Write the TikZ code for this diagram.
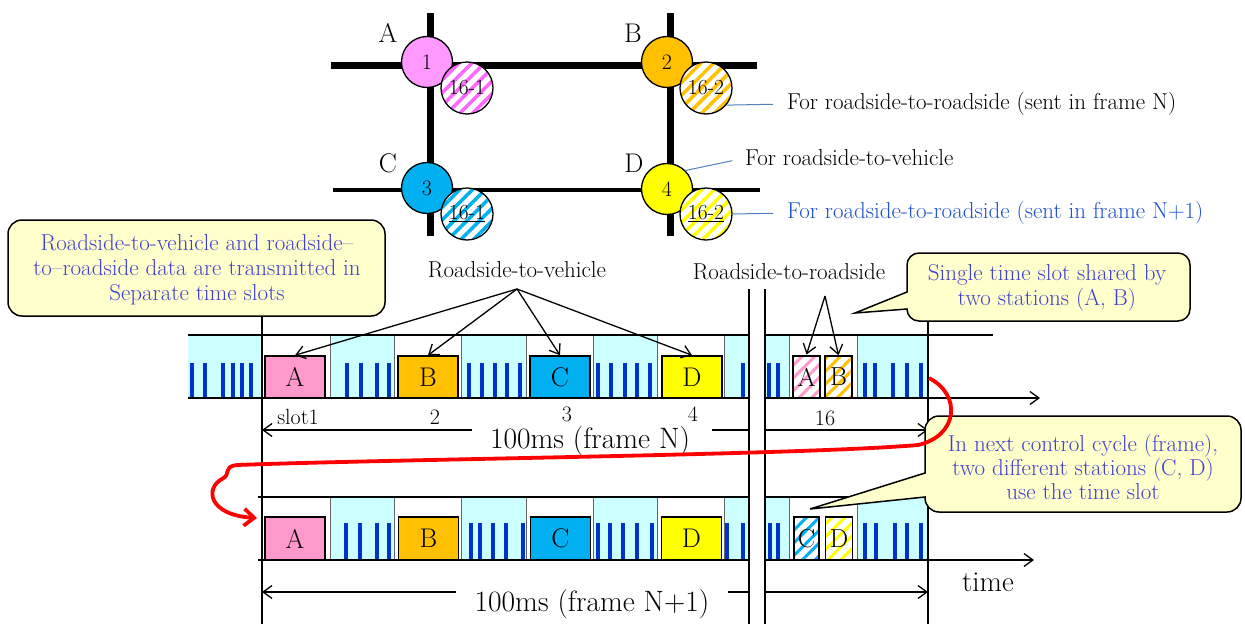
\documentclass[tikz,border=0pt]{standalone}
\usepackage{fontspec}
\usetikzlibrary{arrows.meta,patterns.meta}
\definecolor{cyanbg}{HTML}{CCFFFF}
\definecolor{barblue}{HTML}{0033CC}
\definecolor{pinkA}{HTML}{FF99CC}
\definecolor{violetA}{HTML}{FF99FF}
\definecolor{hatchA}{HTML}{FF66FF}
\definecolor{hatchpink}{HTML}{FF99CC}
\definecolor{orangeB}{HTML}{FFC000}
\definecolor{cyanC}{HTML}{00B0F0}
\definecolor{yellowD}{HTML}{FFFF00}
\definecolor{calloutbg}{HTML}{FFFFCC}
\definecolor{callouttext}{HTML}{4040D0}
\definecolor{leader}{HTML}{4F81BD}
\definecolor{bluetext}{HTML}{2050D0}
\definecolor{sepgray}{HTML}{666666}
\definecolor{redarrow}{HTML}{FF0000}
\tikzset{
  txt/.style={font=\fontsize{23}{26}\selectfont, inner sep=0pt},
  slottxt/.style={font=\fontsize{22}{26}\selectfont, inner sep=0pt},
  biglabel/.style={font=\fontsize{27}{30}\selectfont, inner sep=0pt},
  dimtext/.style={font=\fontsize{29.5}{32}\selectfont, inner sep=0pt},
  station/.style={circle, draw=black, line width=1.3, minimum size=51, inner sep=0pt, font=\fontsize{22}{25}\selectfont},
  hatchc/.style={circle, draw=black, line width=1.3, minimum size=52, inner sep=0pt,
    preaction={fill=white}, pattern={Lines[angle=45,distance=9pt,line width=3.5pt]},
    font=\fontsize{21.5}{25}\selectfont},
  slotbox/.style={draw=black, line width=1.5, minimum width=60, minimum height=42, inner sep=0pt,
    font=\fontsize{27}{30}\selectfont},
  smallbox/.style={draw=black, line width=1.5, minimum width=27, minimum height=42, inner sep=0pt,
    preaction={fill=white}, pattern={Lines[angle=45,distance=9pt,line width=3pt]},
    font=\fontsize{26}{30}\selectfont},
  bar/.style={barblue, line width=3.3},
  sep/.style={sepgray, line width=1},
  thin/.style={black, line width=1.3},
  arr/.style={black, line width=1.3, -{Straight Barb[length=9pt,width=13pt]}},
  leaderline/.style={leader, line width=1},
  callout/.style={draw=black, fill=calloutbg, line width=1.5},
  callouttxt/.style={font=\fontsize{23}{25}\selectfont, text=callouttext, align=center, inner sep=0pt},
}
\begin{document}
\begin{tikzpicture}[x=1pt,y=-1pt]
\useasboundingbox (0,0) rectangle (1245,624);
% ---------- top intersection ----------
\draw[line width=7] (331,65) -- (757,65);
\draw[line width=4.5] (333,190) -- (760,190);
\draw[line width=7] (430,13) -- (430,236);
\draw[line width=7] (670,13) -- (670,236);
\node[station, fill=violetA] (s1) at (427,62) {1};
\node[station, fill=orangeB] (s2) at (667,62) {2};
\node[station, fill=cyanC] (s3) at (427,188) {3};
\node[station, fill=yellowD] (s4) at (667,189) {4};
\node[hatchc, pattern color=hatchA] (h1) at (467,88) {16-1};
\node[hatchc, pattern color=orangeB] (h2) at (706,88) {16-2};
\node[hatchc, pattern color=cyanC] (h3) at (467,214) {\underline{16-1}};
\node[hatchc, pattern color=yellowD] (h4) at (706,214) {\underline{16-2}};
\node[biglabel] (lA) at (388,33) {A};
\node[biglabel] (lB) at (633,33) {B};
\node[biglabel] (lC) at (388,163) {C};
\node[biglabel] (lD) at (634,163) {D};
\node[txt, anchor=west] (t1) at (787,104) {For roadside-to-roadside (sent in frame N)};
\node[txt, anchor=west] (t2) at (745,158) {For roadside-to-vehicle};
\node[txt, anchor=west, text=bluetext] (t3) at (787,213) {For roadside-to-roadside (sent in frame N+1)};
\draw[leaderline, shorten >=14pt] (h2.-40) -- (t1.west);
\draw[leaderline, shorten >=13pt] (s4.45) -- (t2.west);
\draw[leaderline, shorten >=14pt] (h4.east) -- (t3.west);
% ---------- row 1 ----------
\foreach \a/\b in {188/262,330/394,461/526,593/657,724/749,765/789,857/928}
  \fill[cyanbg] (\a,335) rectangle (\b,398);
\foreach \x in {192,205,223,233,242,251,347,361,377,389,469,482,495,507,520,598,611,625,637,650,743,769,778,865,875,893,907,921}
  \draw[bar] (\x,363) -- (\x,398);
\foreach \x in {330,394,461,526,593,657,724,789,857}
  \draw[sep] (\x,335) -- (\x,398);
\node[slotbox, fill=pinkA] (A1) at (295,377) {A};
\node[slotbox, fill=orangeB] (B1) at (428,377) {B};
\node[slotbox, fill=cyanC] (C1) at (560,377) {C};
\node[slotbox, fill=yellowD] (D1) at (692,377) {D};
\node[smallbox, pattern color=hatchpink] (sa1) at (806.5,377) {A};
\node[smallbox, pattern color=orangeB] (sb1) at (838.5,377) {B};
\draw[thin] (188,335) -- (749,335);
\draw[thin] (765,335) -- (993,335);
\draw[thin] (188,398) -- (749,398);
\draw[arr] (765,398) -- (1040,398);
% ---------- row 2 ----------
\foreach \a/\b in {330/394,461/526,593/657,724/749,765/789,857/928}
  \fill[cyanbg] (\a,497) rectangle (\b,560);
\foreach \x in {346,360,377,389,471,480,493,506,523,598,610,623,637,652,727,743,770,778,865,876,895,907,921}
  \draw[bar] (\x,523) -- (\x,560);
\foreach \x in {330,394,461,526,593,657,724,789,857}
  \draw[sep] (\x,497) -- (\x,560);
\node[slotbox, fill=pinkA, minimum height=43] (A2) at (295,538.5) {A};
\node[slotbox, fill=orangeB, minimum height=43] (B2) at (428.5,538.5) {B};
\node[slotbox, fill=cyanC, minimum height=43] (C2) at (560.5,538.5) {C};
\node[slotbox, fill=yellowD, minimum height=43] (D2) at (691.5,538.5) {D};
\node[smallbox, pattern color=cyanC, minimum width=25, minimum height=43] (sc2) at (806.5,538.5) {C};
\node[smallbox, pattern color=yellowD, minimum height=43] (sd2) at (839,538.5) {D};
\draw[thin] (258,497) -- (749,497);
\draw[thin] (765,497) -- (928,497);
\draw[thin] (258,560) -- (749,560);
\draw[arr] (765,560) -- (1034,560);
% ---------- long vertical lines ----------
\draw[thin] (262,316) -- (262,624);
\draw[thin] (749,289) -- (749,624);
\draw[thin] (765,289) -- (765,624);
\draw[thin] (928,322) -- (928,624);
% ---------- labels and dimensions ----------
\node[slottxt] (sl1) at (298,417) {slot1};
\node[slottxt] (sl2) at (435,417) {2};
\node[slottxt] (sl3) at (567,414) {3};
\node[slottxt] (sl4) at (693,414) {4};
\node[slottxt] (sl16) at (825,418) {16};
\node[dimtext] (fN) at (590,441) {100ms (frame N)};
\node[dimtext] (fN1) at (592,604) {100ms (frame N+1)};
\node[font=\fontsize{29}{32}\selectfont, inner sep=0pt] (tm) at (988,582) {time};
\draw[arr] (472,430) -- (262,430);
\draw[thin] (712,430) -- (749,430);
\draw[arr] (765,430) -- (928,430);
\draw[arr] (456,592) -- (262,592);
\draw[thin] (728,592) -- (749,592);
\draw[arr] (765,592) -- (928,592);
% ---------- fan arrows ----------
\node[txt] (rv) at (517,270) {Roadside-to-vehicle};
\node[txt] (rr) at (789,272) {Roadside-to-roadside};
\coordinate (fan) at (517,289);
\coordinate (fan2) at (825,296);
\foreach \t in {A1,B1,C1,D1} \draw[arr] (fan) -- (\t.north);
\foreach \t in {sa1,sb1} \draw[arr] (fan2) -- (\t.north);
% ---------- callouts ----------
\draw[callout, rounded corners=14] (8,220) rectangle (385,316);
\node[callouttxt] (c1) at (197,270) {Roadside-to-vehicle and roadside–\\to–roadside data are transmitted in\\Separate time slots};
\draw[callout] (855,313) -- (907,292) [rounded corners=12] -- (907,253) -- (1190,253) -- (1190,321) -- (907,321) [sharp corners] -- (907,309) -- cycle;
\node[callouttxt] (c2) at (1047,287.5) {Single time slot shared by\\two stations (A, B)};
\draw[callout] (810,509) -- (925,473) [rounded corners=14] -- (925,416) -- (1241,416) -- (1241,512) -- (925,512) [sharp corners] -- (925,497) -- cycle;
\node[callouttxt, font=\fontsize{23}{24}\selectfont] (c3) at (1083,467) {In next control cycle (frame),\\two different stations (C, D)\\use the time slot};
% ---------- red arrow ----------
\coordinate (rs) at (929,378);
\coordinate (re) at (257,518);
\draw[redarrow, line width=3.8, -{Straight Barb[length=10pt,width=17pt]}] (rs) .. controls (962,395) and (958,436) .. (918,445) .. controls (800,455) and (400,459) .. (237,465) .. controls (222,467) and (232,474) .. (222,479) .. controls (205,488) and (208,515) .. (re);
\end{tikzpicture}
\end{document}
